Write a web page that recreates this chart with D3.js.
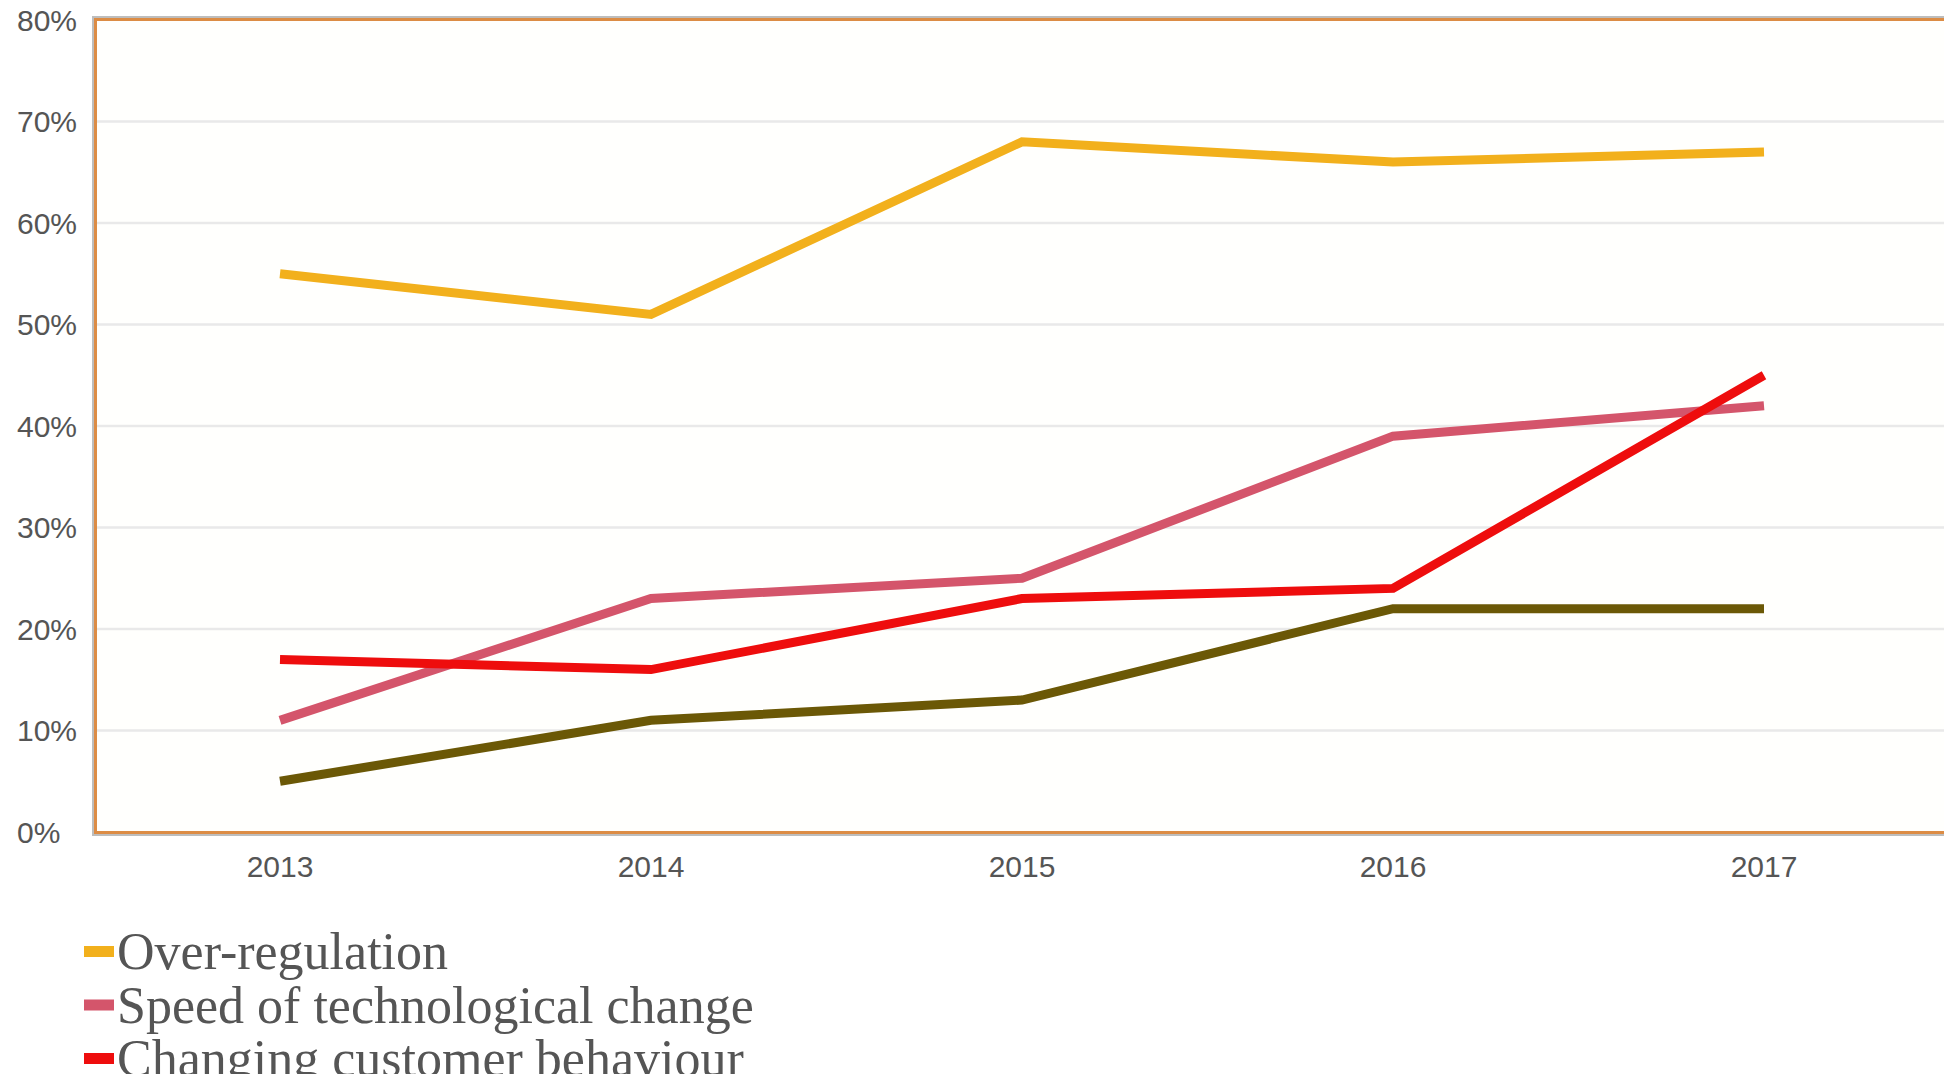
<!DOCTYPE html>
<html>
<head>
<meta charset="utf-8">
<script src="https://cdn.jsdelivr.net/npm/d3@7"></script>
<style>
  html, body { margin: 0; padding: 0; background: #ffffff; }
  svg { display: block; }
</style>
</head>
<body>
<svg id="chart" width="1944" height="1074"></svg>
<script>
const years = ["2013", "2014", "2015", "2016", "2017"];
const yTicks = [0, 10, 20, 30, 40, 50, 60, 70, 80];
const seriesNames = ["Over-regulation", "Speed of technological change", "Changing customer behaviour"];
const overRegulation = [55, 51, 68, 66, 67];
const speedOfTechChange = [11, 23, 25, 39, 42];
const changingCustomer = [17, 16, 23, 24, 45];
const fourthSeries = [5, 11, 13, 22, 22];
const colors = ["#f2b01c", "#d4556b", "#ee0d0d", "#6b5806"];

const svg = d3.select("#chart");
const x = d3.scaleBand().domain(years).range([94.5, 1949.5]).padding(0);
const y = d3.scaleLinear().domain([0, 80]).range([832, 20]);

// plot background
svg.append("rect")
  .attr("x", 94.5).attr("y", 20)
  .attr("width", 1949.5 - 94.5).attr("height", 832 - 20)
  .attr("fill", "#fffffd");

// gridlines
svg.append("g").selectAll("line")
  .data(yTicks.filter(d => d > 0 && d < 80))
  .join("line")
  .attr("x1", 96).attr("x2", 1944)
  .attr("y1", d => y(d)).attr("y2", d => y(d))
  .attr("stroke", "#e9e9e9").attr("stroke-width", 2.5);

// y tick labels
svg.append("g").selectAll("text")
  .data(yTicks)
  .join("text")
  .attr("x", 17).attr("y", d => y(d))
  .attr("dy", "0.36em")
  .attr("font-family", "Liberation Sans, Arial, sans-serif")
  .attr("font-size", 30)
  .attr("fill", "#555")
  .text(d => d + "%");

// x axis labels
const xAxis = d3.axisBottom(x).tickSize(0).tickPadding(0);
const gx = svg.append("g").attr("transform", "translate(0,855)").call(xAxis);
gx.select(".domain").remove();
gx.selectAll("text")
  .attr("dy", "0.72em")
  .attr("font-family", "Liberation Sans, Arial, sans-serif")
  .attr("font-size", 30)
  .attr("fill", "#555");

// lines
const allSeries = [overRegulation, speedOfTechChange, changingCustomer, fourthSeries];
const drawOrder = [0, 1, 3, 2];
const line = d3.line()
  .x((d, i) => x(years[i]) + x.bandwidth() / 2)
  .y(d => y(d));
svg.append("g").selectAll("path")
  .data(drawOrder)
  .join("path")
  .attr("d", k => line(allSeries[k]))
  .attr("fill", "none")
  .attr("stroke", k => colors[k])
  .attr("stroke-width", 9)
  .attr("stroke-linejoin", "miter")
  .attr("stroke-linecap", "butt");

// plot border
svg.append("rect")
  .attr("x", 94.5).attr("y", 18.5)
  .attr("width", 1949.5 - 94.5).attr("height", 833.5 - 18.5)
  .attr("fill", "none")
  .attr("stroke", "#bdbdbd").attr("stroke-width", 5);
svg.append("rect")
  .attr("x", 95.5).attr("y", 19.5)
  .attr("width", 1949.5 - 95.5).attr("height", 832.5 - 19.5)
  .attr("fill", "none")
  .attr("stroke", "#dc8c45").attr("stroke-width", 3);

// legend
const legend = svg.append("g").selectAll("g")
  .data(seriesNames)
  .join("g")
  .attr("transform", (d, i) => `translate(0,${969 + i * 53.5})`);
legend.append("rect")
  .attr("x", 84).attr("y", -23).attr("width", 30).attr("height", 11)
  .attr("fill", (d, i) => colors[i]);
legend.append("text")
  .attr("x", 117).attr("y", 0)
  .attr("font-family", "Liberation Serif, Times New Roman, serif")
  .attr("font-size", 52)
  .attr("fill", "#555")
  .text(d => d);
</script>
</body>
</html>
